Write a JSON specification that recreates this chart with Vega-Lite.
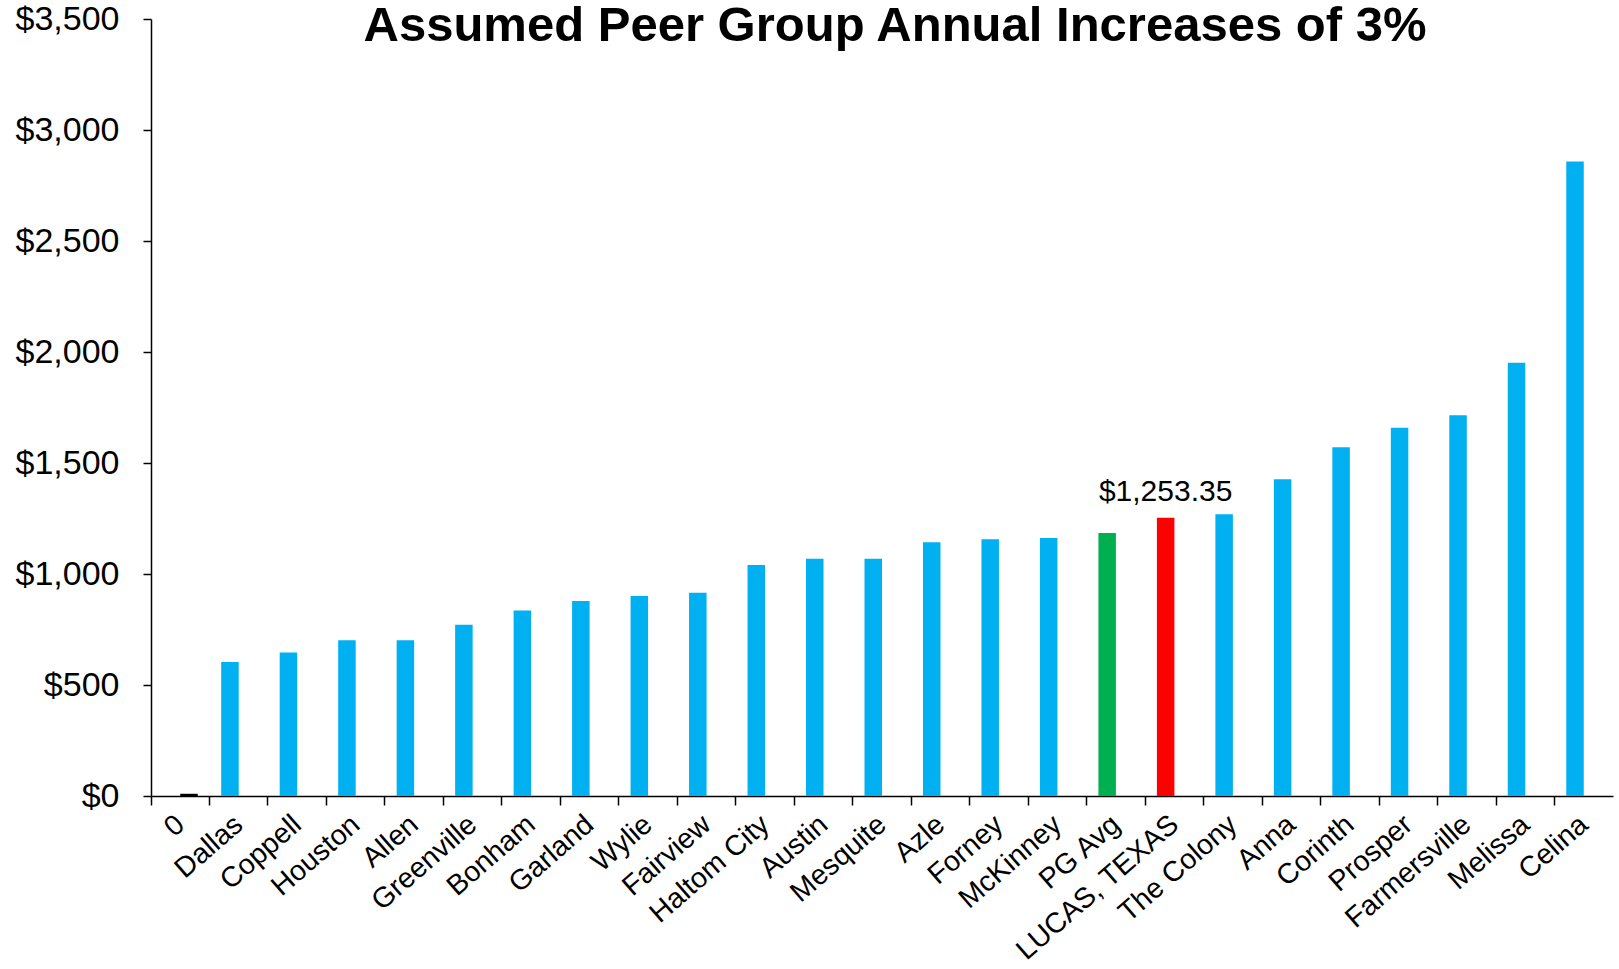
{
  "$schema": "https://vega.github.io/schema/vega-lite/v6.json",
  "width": 1462,
  "height": 777,
  "autosize": {"type": "none"},
  "padding": {"left": 151, "top": 19, "right": 6, "bottom": 173},
  "background": "white",
  "config": {"view": {"stroke": null}, "font": "Liberation Sans"},
  "title": {
    "text": "Assumed Peer Group Annual Increases of 3%",
    "fontSize": 49,
    "font": "Liberation Sans",
    "fontWeight": "bold",
    "color": "black",
    "anchor": "middle",
    "baseline": "alphabetic",
    "offset": -88,
    "dx": 13
  },
  "data": {
    "values": [
      {"city": "0", "value": 10, "group": "zero", "series": "b", "label": ""},
      {"city": "Dallas", "value": 604, "group": "peer", "series": "a", "label": ""},
      {"city": "Coppell", "value": 646, "group": "peer", "series": "a", "label": ""},
      {"city": "Houston", "value": 702, "group": "peer", "series": "a", "label": ""},
      {"city": "Allen", "value": 702, "group": "peer", "series": "a", "label": ""},
      {"city": "Greenville", "value": 771, "group": "peer", "series": "a", "label": ""},
      {"city": "Bonham", "value": 836, "group": "peer", "series": "a", "label": ""},
      {"city": "Garland", "value": 878, "group": "peer", "series": "a", "label": ""},
      {"city": "Wylie", "value": 901, "group": "peer", "series": "a", "label": ""},
      {"city": "Fairview", "value": 915, "group": "peer", "series": "a", "label": ""},
      {"city": "Haltom City", "value": 1041, "group": "peer", "series": "a", "label": ""},
      {"city": "Austin", "value": 1069, "group": "peer", "series": "a", "label": ""},
      {"city": "Mesquite", "value": 1069, "group": "peer", "series": "a", "label": ""},
      {"city": "Azle", "value": 1143, "group": "peer", "series": "a", "label": ""},
      {"city": "Forney", "value": 1157, "group": "peer", "series": "a", "label": ""},
      {"city": "McKinney", "value": 1162, "group": "peer", "series": "a", "label": ""},
      {"city": "PG Avg", "value": 1185, "group": "avg", "series": "a", "label": ""},
      {"city": "LUCAS, TEXAS", "value": 1253.35, "group": "lucas", "series": "a", "label": "$1,253.35"},
      {"city": "The Colony", "value": 1269, "group": "peer", "series": "a", "label": ""},
      {"city": "Anna", "value": 1427, "group": "peer", "series": "a", "label": ""},
      {"city": "Corinth", "value": 1571, "group": "peer", "series": "a", "label": ""},
      {"city": "Prosper", "value": 1659, "group": "peer", "series": "a", "label": ""},
      {"city": "Farmersville", "value": 1715, "group": "peer", "series": "a", "label": ""},
      {"city": "Melissa", "value": 1952, "group": "peer", "series": "a", "label": ""},
      {"city": "Celina", "value": 2858, "group": "peer", "series": "a", "label": ""}
    ]
  },
  "encoding": {
    "x": {
      "field": "city",
      "type": "nominal",
      "sort": null,
      "title": null,
      "scale": {"paddingInner": 0.4015, "paddingOuter": 0.20075},
      "axis": {
        "bandPosition": -0.3354,
        "labelAngle": -41,
        "labelAlign": "right",
        "labelBaseline": "middle",
        "labelFontSize": 28.5,
        "labelColor": "black",
        "labelPadding": 15,
        "labelLimit": 0,
        "labelFont": "Liberation Sans",
        "tickSize": 9,
        "tickColor": "black",
        "tickWidth": 1.5,
        "domainColor": "black",
        "domainWidth": 1.5,
        "grid": false
      }
    },
    "xOffset": {
      "field": "series",
      "type": "nominal",
      "scale": {"domain": ["a", "b"], "paddingInner": 0, "paddingOuter": 0}
    },
    "y": {
      "field": "value",
      "type": "quantitative",
      "title": null,
      "scale": {"domain": [0, 3500], "nice": false},
      "axis": {
        "values": [0, 500, 1000, 1500, 2000, 2500, 3000, 3500],
        "format": "$,.0f",
        "labelFontSize": 34,
        "labelColor": "black",
        "labelFont": "Liberation Sans",
        "labelPadding": 24,
        "tickSize": 8,
        "tickColor": "black",
        "tickWidth": 1.5,
        "domainColor": "black",
        "domainWidth": 1.5,
        "grid": false
      }
    }
  },
  "layer": [
    {
      "mark": {"type": "bar"},
      "encoding": {
        "color": {
          "field": "group",
          "type": "nominal",
          "scale": {"domain": ["zero", "peer", "avg", "lucas"], "range": ["#000000", "#00B0F0", "#00B050", "#FF0000"]},
          "legend": null
        }
      }
    },
    {
      "transform": [{"filter": "datum.label != ''"}],
      "mark": {"type": "text", "baseline": "alphabetic", "dy": -17, "fontSize": 30, "font": "Liberation Sans", "color": "black"},
      "encoding": {"text": {"field": "label"}}
    }
  ]
}
